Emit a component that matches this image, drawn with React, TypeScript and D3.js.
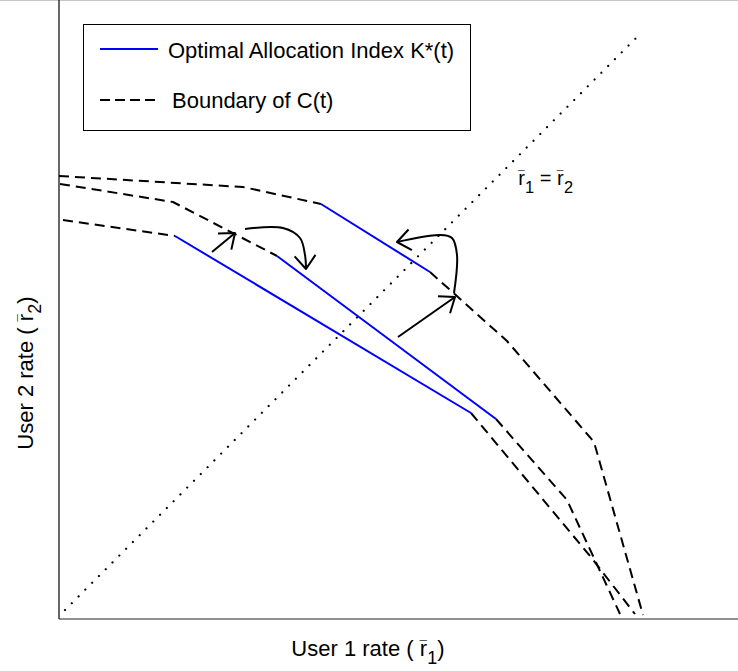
import React from 'react';
import * as d3 from 'd3';

const W = 738;
const H = 671;
const FONT = '"Liberation Sans", Arial, Helvetica, sans-serif';

// Achievable-rate region boundaries C(t), vertices as [r1, r2]
const boundaryOuter: [number, number][] = [
  [0.0, 4.43], [1.84, 4.32], [2.62, 4.15], [3.71, 3.47], [4.48, 2.78], [5.35, 1.77], [5.84, 0.04],
];
const boundaryMiddle: [number, number][] = [
  [0.01, 4.35], [1.14, 4.17], [2.18, 3.63], [4.37, 2.0], [5.08, 1.19], [5.61, 0.05],
];
const boundaryInner: [number, number][] = [
  [0.04, 3.99], [1.16, 3.83], [4.12, 2.06], [5.31, 0.63], [5.76, 0.05],
];
// Vertex index range of each boundary occupied by the optimal allocation index K*(t)
const allocRanges: [number, number][] = [[2, 3], [2, 3], [1, 2]];
const boundaries = [boundaryOuter, boundaryMiddle, boundaryInner];

// Equal-rate line r1 = r2
const equalRateLine: [number, number][] = [[0.06, 0.09], [5.83, 5.87]];

// Annotation arrows (tail ... tip)
const arrowPaths: [number, number][][] = [
  [[1.53, 3.67], [1.76, 3.86]],
  [[1.86, 3.9], [2.24, 3.91], [2.41, 3.81], [2.46, 3.64], [2.47, 3.5]],
  [[3.39, 2.82], [3.96, 3.22]],
  [[3.95, 3.26], [3.98, 3.64], [3.93, 3.81], [3.81, 3.84], [3.38, 3.77]],
];

const x = d3.scaleLinear().domain([0, 6.79]).range([59, 738]);
const y = d3.scaleLinear().domain([0, 6.19]).range([619, 0]);

const line = d3
  .line<[number, number]>()
  .x((d) => x(d[0]))
  .y((d) => y(d[1]));
const curved = d3
  .line<[number, number]>()
  .x((d) => x(d[0]))
  .y((d) => y(d[1]))
  .curve(d3.curveCatmullRom.alpha(0.5));

function arrowHead(pts: [number, number][]) {
  const n = pts.length;
  const tx = x(pts[n - 1][0]);
  const ty = y(pts[n - 1][1]);
  const px = x(pts[n - 2][0]);
  const py = y(pts[n - 2][1]);
  const back = Math.atan2(py - ty, px - tx);
  const len = 17;
  const a = (38 * Math.PI) / 180;
  const h1 = [tx + len * Math.cos(back + a), ty + len * Math.sin(back + a)];
  const h2 = [tx + len * Math.cos(back - a), ty + len * Math.sin(back - a)];
  return `M${h1[0]},${h1[1]}L${tx},${ty}L${h2[0]},${h2[1]}`;
}

// r with an overbar and a subscript; leaves the baseline where it started
const RBar = ({ sub, size }: { sub: string; size: number }) => (
  <>
    <tspan>r</tspan>
    <tspan dx={-0.34 * size} dy={-0.26 * size} fontSize={size * 0.6}>
      {'\u00AF'}
    </tspan>
    <tspan dx={0.02 * size} dy={0.26 * size + 0.38 * size} fontSize={size * 0.82}>
      {sub}
    </tspan>
  </>
);

export default function App() {
  return (
    <svg
      width={W}
      height={H}
      style={{ position: 'fixed', left: 0, top: 0, background: '#fff' }}
      fontFamily={FONT}
    >
      <rect x={0} y={0} width={W} height={H} fill="#fff" />
      <line x1={0} x2={W} y1={0.5} y2={0.5} stroke="#c8c8c8" strokeWidth={1} />

      {/* axes */}
      <line x1={x(0)} x2={x(0)} y1={0} y2={y(0)} stroke="#000" strokeWidth={1.2} />
      <line x1={x(0)} x2={W} y1={y(0)} y2={y(0)} stroke="#222" strokeWidth={1.2} />

      {/* r1 = r2 */}
      <path
        d={line(equalRateLine) || ''}
        fill="none"
        stroke="#000"
        strokeWidth={2.2}
        strokeLinecap="round"
        strokeDasharray="0.01 9.6"
      />

      {/* boundaries and allocation segments */}
      {boundaries.map((b, i) => {
        const [i0, i1] = allocRanges[i];
        return (
          <g key={i}>
            <path d={line(b.slice(0, i0 + 1)) || ''} fill="none" stroke="#000" strokeWidth={2} strokeDasharray="10 6" />
            <path d={line(b.slice(i1)) || ''} fill="none" stroke="#000" strokeWidth={2} strokeDasharray="10 6" />
            <path d={line(b.slice(i0, i1 + 1)) || ''} fill="none" stroke="#0000ff" strokeWidth={2} />
          </g>
        );
      })}

      {/* arrows */}
      {arrowPaths.map((p, i) => (
        <g key={i} fill="none" stroke="#000" strokeWidth={2} strokeLinejoin="round">
          <path d={(p.length > 2 ? curved(p) : line(p)) || ''} />
          <path d={arrowHead(p)} />
        </g>
      ))}

      <text x={518} y={185} fontSize={20}>
        <RBar sub="1" size={20} />
        <tspan dy={-7.6}> = </tspan>
        <RBar sub="2" size={20} />
      </text>

      {/* legend */}
      <rect x={83.5} y={24.5} width={387} height={106} fill="#fff" stroke="#000" strokeWidth={1} />
      <line x1={100} x2={158} y1={49} y2={49} stroke="#0000ff" strokeWidth={2} />
      <text x={168} y={58} fontSize={22}>Optimal Allocation Index K*(t)</text>
      <line x1={100} x2={160} y1={100} y2={100} stroke="#000" strokeWidth={2} strokeDasharray="10 5" />
      <text x={172} y={108} fontSize={22}>Boundary of C(t)</text>

      {/* axis labels */}
      <text x={368} y={656} fontSize={22} textAnchor="middle">
        User 1 rate ( <RBar sub="1" size={22} />
        <tspan dy={-8.4}>)</tspan>
      </text>
      <text transform="translate(33,373) rotate(-90)" fontSize={22} textAnchor="middle">
        User 2 rate ( <RBar sub="2" size={22} />
        <tspan dy={-8.4}>)</tspan>
      </text>
    </svg>
  );
}
